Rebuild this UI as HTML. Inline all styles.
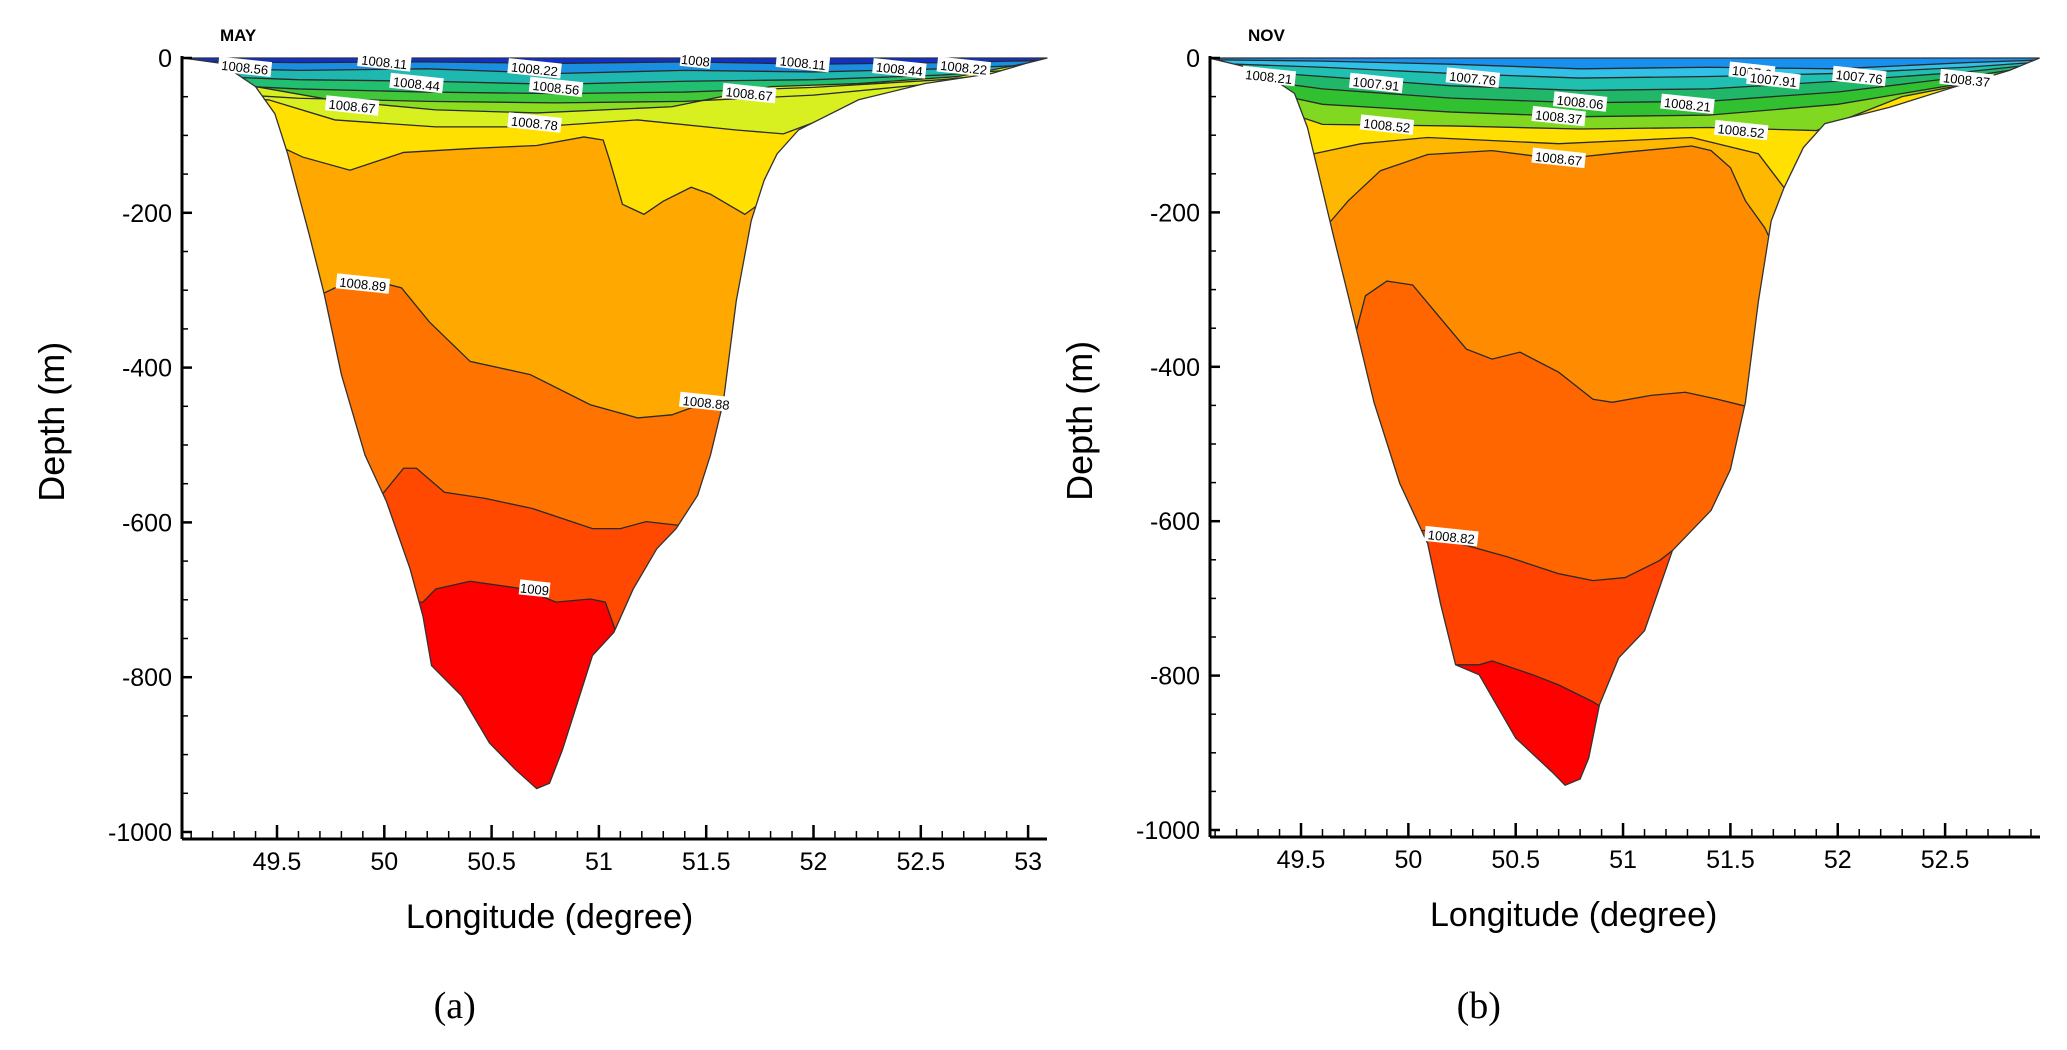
<!DOCTYPE html>
<html><head><meta charset="utf-8"><style>
html,body{margin:0;padding:0;background:#fff;}
svg{display:block;font-family:"Liberation Sans",sans-serif;}
</style></head><body>
<svg id="fig" width="2067" height="1050" viewBox="0 0 2067 1050"></svg>
<script>
// ---------- DATA : May ----------
const mayBasin=[[49.06,0],[49.24,-7],[49.40,-37],[49.49,-72],[49.55,-124],[49.65,-228],[49.72,-305],[49.80,-409],[49.91,-513],[50.01,-573],[50.12,-660],[50.18,-721],[50.22,-785],[50.36,-824],[50.49,-885],[50.61,-919],[50.71,-944],[50.77,-937],[50.83,-894],[50.90,-833],[50.97,-772],[51.07,-742],[51.16,-686],[51.27,-634],[51.36,-608],[51.46,-565],[51.52,-513],[51.58,-444],[51.64,-314],[51.71,-210],[51.77,-158],[51.83,-124],[51.93,-93],[52.21,-54],[52.52,-33],[52.83,-20],[52.99,-7],[53.09,0]];
const mayC1=[[49.0,-4],[49.6,-6],[50.2,-5],[50.8,-7],[51.4,-5],[52.0,-8],[52.6,-6],[53.1,-3]];
const mayC2=[[49.0,-12],[49.6,-16],[50.2,-14],[50.8,-20],[51.4,-16],[52.0,-18],[52.6,-14],[53.1,-8]];
const mayC3=[[49.0,-22],[49.6,-28],[50.2,-30],[50.8,-34],[51.4,-30],[52.0,-28],[52.6,-22],[53.1,-12]];
const mayC4=[[49.0,-32],[49.6,-40],[50.2,-44],[50.8,-46],[51.4,-44],[52.0,-38],[52.6,-28],[53.1,-15]];
const mayC5=[[49.0,-42],[49.6,-52],[50.2,-56],[50.8,-58],[51.4,-56],[52.0,-48],[52.6,-32],[53.1,-18]];
const mayC6=[[49.4,-37],[49.77,-55],[50.24,-67],[50.71,-71],[51.34,-63],[51.80,-37],[52.21,-33],[52.67,-24],[52.99,-7]];
const mayC7=[[49.46,-54],[49.77,-80],[50.24,-89],[50.71,-89],[51.18,-80],[51.64,-93],[51.86,-98],[52.11,-72],[52.42,-50],[52.74,-29],[52.99,-11]];
const mayC8=[[49.52,-115],[49.62,-128],[49.84,-145],[50.09,-122],[50.40,-117],[50.71,-113],[50.93,-102],[51.02,-106],[51.05,-132],[51.11,-189],[51.21,-202],[51.30,-185],[51.43,-167],[51.52,-176],[51.68,-202],[51.77,-184]];
const mayC9=[[49.71,-305],[49.77,-297],[49.90,-284],[50.08,-297],[50.21,-341],[50.40,-392],[50.68,-409],[50.96,-448],[51.18,-465],[51.34,-461],[51.56,-439]];
const mayC10=[[49.99,-564],[50.09,-530],[50.15,-530],[50.28,-561],[50.47,-569],[50.69,-582],[50.97,-608],[51.10,-608],[51.22,-599],[51.38,-604]];
const mayC11=[[50.18,-703],[50.24,-686],[50.40,-676],[50.65,-686],[50.80,-703],[50.96,-699],[51.03,-703],[51.08,-742]];
const mayColors=["#1030d0","#1a8ee0","#1fb8b0","#20c070","#40c838","#8cdc20","#d8f020","#ffe000","#ffa800","#ff7400","#ff4800","#ff0000"];
const mayLabels=[["1008.56",49.35,-12],["1008.11",50.0,-5],["1008.22",50.7,-14],["1008.44",50.15,-33],["1008.56",50.8,-38],["1008",51.45,-3],["1008.11",51.95,-6],["1008.44",52.4,-14],["1008.22",52.7,-12],["1008.67",49.85,-62],["1008.67",51.7,-46],["1008.78",50.7,-84],["1008.89",49.9,-292],["1008.88",51.5,-445],["1009",50.7,-686]];
// ---------- DATA : Nov ----------
const novBasin=[[49.07,0],[49.31,-16],[49.47,-46],[49.53,-90],[49.59,-159],[49.65,-229],[49.75,-342],[49.84,-446],[49.96,-551],[50.09,-629],[50.15,-707],[50.22,-786],[50.33,-799],[50.50,-881],[50.67,-925],[50.73,-942],[50.80,-934],[50.84,-907],[50.89,-838],[50.98,-777],[51.10,-742],[51.23,-638],[51.41,-586],[51.50,-533],[51.57,-446],[51.63,-316],[51.69,-211],[51.75,-168],[51.84,-116],[51.94,-85],[52.24,-64],[52.55,-37],[52.80,-16],[52.94,0]];
const novC1=[[49.0,-2],[49.6,-4],[50.2,-8],[50.8,-14],[51.4,-12],[52.0,-14],[52.6,-6],[53.0,-2]];
const novC2=[[49.0,-6],[49.6,-12],[50.2,-20],[50.8,-26],[51.4,-24],[52.0,-20],[52.6,-12],[53.0,-4]];
const novC3=[[49.0,-12],[49.6,-24],[50.2,-36],[50.8,-42],[51.4,-40],[52.0,-30],[52.6,-18],[53.0,-6]];
const novC4=[[49.0,-18],[49.6,-40],[50.2,-52],[50.8,-58],[51.4,-56],[52.0,-44],[52.6,-24],[53.0,-8]];
const novC5=[[49.0,-24],[49.6,-60],[50.2,-70],[50.8,-76],[51.4,-74],[52.0,-60],[52.6,-32],[53.0,-10]];
const novC6=[[49.0,-30],[49.6,-86],[50.2,-88],[50.8,-92],[51.4,-90],[51.9,-94],[52.3,-50],[53.0,-12]];
const novC7=[[49.56,-124],[49.78,-111],[50.09,-103],[50.70,-111],[51.32,-103],[51.63,-124],[51.75,-168]];
const novC8=[[49.64,-211],[49.72,-185],[49.87,-146],[50.09,-125],[50.39,-120],[50.70,-131],[51.01,-122],[51.32,-114],[51.41,-120],[51.50,-142],[51.57,-185],[51.66,-220],[51.72,-255]];
const novC9=[[49.76,-351],[49.80,-308],[49.90,-289],[50.02,-294],[50.14,-334],[50.27,-377],[50.39,-390],[50.52,-381],[50.70,-407],[50.86,-442],[50.95,-446],[51.13,-437],[51.29,-433],[51.44,-442],[51.57,-451]];
const novC10=[[50.09,-612],[50.24,-629],[50.46,-646],[50.70,-668],[50.86,-677],[51.01,-673],[51.17,-651],[51.23,-638]];
const novC11=[[50.33,-786],[50.39,-781],[50.58,-799],[50.70,-812],[50.86,-834],[50.95,-850]];
const novColors=["#1890f0","#30c0e8","#20c0b0","#20b868","#30c030","#80d820","#ffe000","#ffb800","#ff8c00","#ff6600","#ff4200","#ff0000"];
const novLabels=[["1008.21",49.35,-24],["1007.91",49.85,-33],["1007.76",50.3,-26],["1008.06",50.8,-57],["1008.21",51.3,-60],["1008.37",50.7,-76],["1008.52",49.9,-87],["1008.52",51.55,-94],["1008.67",50.7,-130],["1007.6",51.6,-18],["1007.91",51.7,-28],["1007.76",52.1,-24],["1008.37",52.6,-28],["1008.82",50.2,-620]];
const yTicks=[0,-200,-400,-600,-800,-1000];
const mayXTicks=[49.5,50,50.5,51,51.5,52,52.5,53];
const novXTicks=[49.5,50,50.5,51,51.5,52,52.5];

const NS="http://www.w3.org/2000/svg";
const svg=document.getElementById('fig');
function mk(tag,attrs,parent){const e=document.createElementNS(NS,tag);for(const k in attrs)e.setAttribute(k,attrs[k]);(parent||svg).appendChild(e);return e;}

function panel(cfg){
  const X=l=>cfg.x0+(l-49.5)*cfg.sx, Y=d=>cfg.y0-d*cfg.sy;
  const g=mk('g',{});
  
  
  const cid='clip-'+cfg.name;
  const defs=mk('defs',{},g);
  const cp=mk('clipPath',{id:cid},defs);
  const basinPts=cfg.basin.map(p=>X(p[0])+','+Y(p[1])).join(' ');
  mk('polygon',{points:basinPts},cp);
  const fg=mk('g',{'clip-path':'url(#'+cid+')'},g);
  const base=mk('polygon',{points:basinPts,fill:cfg.colors[0]},fg);
  
  
  cfg.contours.forEach((c,i)=>{
    const pts=[[47,c[0][1]],...c,[55,c[c.length-1][1]]];
    const poly=pts.map(p=>X(p[0])+','+Y(p[1])).concat([X(55)+','+Y(-1200),X(47)+','+Y(-1200)]).join(' ');
    const band=mk('polygon',{points:poly,fill:cfg.colors[i+1]},fg);
    
    
  });
  cfg.contours.forEach((c,i)=>{
    const pts=[[47,c[0][1]],...c,[55,c[c.length-1][1]]];
    const line=mk('polyline',{points:pts.map(p=>X(p[0])+','+Y(p[1])).join(' '),fill:'none',stroke:'#2a2a2a','stroke-width':1.3},fg);
    
    
  });
  const outline=mk('polygon',{points:basinPts,fill:'none',stroke:'#333','stroke-width':1.3},g);
  
  
  cfg.labels.forEach(L=>{
    const lg=mk('g',{transform:'translate('+X(L[1])+','+Y(L[2])+') rotate(6)'},g);
    
    
    const w=L[0].length*7.6;
    mk('rect',{x:-w/2,y:-8,width:w,height:15,fill:'#fff'},lg);
    const t=mk('text',{x:0,y:5,'font-size':13,'text-anchor':'middle',fill:'#000'},lg);
    t.textContent=L[0];
  });
  const ax=mk('g',{},g);
  
  
  const yb=Y(-1000)+7;
  mk('line',{x1:cfg.axL,y1:Y(0)-2,x2:cfg.axL,y2:yb,stroke:'#000','stroke-width':3},ax);
  mk('line',{x1:cfg.axL,y1:yb,x2:cfg.axR,y2:yb,stroke:'#000','stroke-width':3},ax);
  for(let d=0;d>=-1000;d-=50){
    const maj=d%200===0;
    mk('line',{x1:cfg.axL,y1:Y(d),x2:cfg.axL+(maj?10:6),y2:Y(d),stroke:'#000','stroke-width':maj?2.5:1.5},ax);
  }
  yTicks.forEach(d=>{
    const t=mk('text',{x:cfg.axL-10,y:Y(d)+9,'font-size':25,'text-anchor':'end'},ax);
    
    
    t.textContent=d;
  });
  for(let i=0;;i++){
    const l=49.1+i*0.1; const xx=X(l); if(xx>cfg.axR)break;
    const maj=Math.abs(l*2-Math.round(l*2))<1e-6;
    mk('line',{x1:xx,y1:yb,x2:xx,y2:yb-(maj?14:8),stroke:'#000','stroke-width':maj?2.5:1.5},ax);
  }
  cfg.xticks.forEach(l=>{
    const t=mk('text',{x:X(l),y:yb+31,'font-size':25,'text-anchor':'middle'},ax);
    
    
    t.textContent=l;
  });
  const tt=mk('text',{x:cfg.axL+38,y:Y(0)-17,'font-size':17,'font-weight':'bold'},g);
  
  
  tt.textContent=cfg.title;
  const yt=mk('text',{x:0,y:0,'font-size':36,'text-anchor':'middle',transform:'translate('+(cfg.axL-118)+','+Y(-470)+') rotate(-90)'},g);
  
  
  yt.textContent='Depth (m)';
  const xt=mk('text',{x:X(50.77),y:yb+89,'font-size':34,'text-anchor':'middle'},g);
  
  
  xt.textContent='Longitude (degree)';
  const cap=mk('text',{x:X(50.3)+6,y:1018,'font-size':38,'text-anchor':'middle','font-family':'Liberation Serif, serif'},g);
  
  
  cap.textContent=cfg.caption;
}
panel({name:'may-panel',title:'MAY',caption:'(a)',x0:277,sx:214.6,y0:58,sy:0.774,axL:182,axR:1047,basin:mayBasin,
  contours:[mayC1,mayC2,mayC3,mayC4,mayC5,mayC6,mayC7,mayC8,mayC9,mayC10,mayC11],colors:mayColors,labels:mayLabels,xticks:mayXTicks});
panel({name:'nov-panel',title:'NOV',caption:'(b)',x0:1301,sx:214.7,y0:58,sy:0.772,axL:1210,axR:2040,basin:novBasin,
  contours:[novC1,novC2,novC3,novC4,novC5,novC6,novC7,novC8,novC9,novC10,novC11],colors:novColors,labels:novLabels,xticks:novXTicks});
</script>
</body></html>
